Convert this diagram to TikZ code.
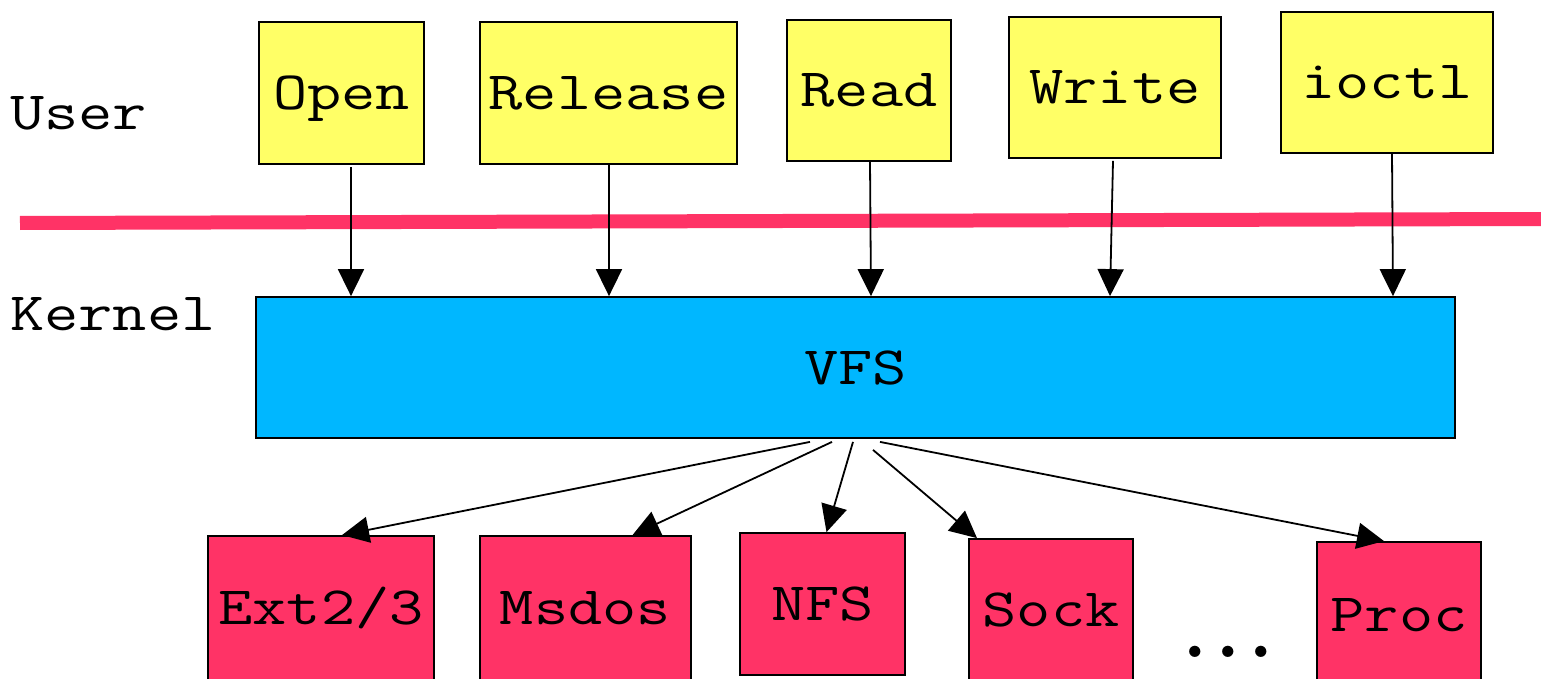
\documentclass[tikz,border=0pt]{standalone}
\usepackage{fontspec}
\setmonofont{Latin Modern Mono}[FakeStretch=1.23]
\newfontfamily\dotfnt{Latin Modern Mono}[LetterSpace=-18.5]
\usetikzlibrary{arrows.meta,calc}
\definecolor{ybox}{HTML}{FFFF66}
\definecolor{bbox}{HTML}{00B7FF}
\definecolor{pbox}{HTML}{FF3366}
\tikzset{
  lbl/.style={font=\ttfamily\fontsize{54pt}{60pt}\selectfont, inner sep=0pt},
  boxbase/.style={draw=black, line width=1.8pt, inner sep=0pt, text height=33pt, text depth=0pt,
     font=\ttfamily\fontsize{54pt}{60pt}\selectfont},
  ubox/.style={boxbase, fill=ybox},
  kbox/.style={boxbase, fill=bbox},
  fbox/.style={boxbase, fill=pbox},
  arr/.style={line width=1.8pt, -{Triangle[width=26pt,length=27pt]}},
}
\begin{document}
\begin{tikzpicture}[x=1pt,y=-1pt]
\useasboundingbox (0,0) rectangle (1541,679);
\fill[white] (0,0) rectangle (1541,679);
% separator
\coordinate (sepL) at (20,223);
\coordinate (sepR) at (1545,219);
\draw[pbox, line width=14pt] (sepL) -- (sepR);
% labels
\node[lbl, anchor=base west] (user) at (10,130) {User};
\node[lbl, anchor=base west] (kernel) at (10,330) {Kernel};
% user boxes
\node[ubox, minimum width=165pt, minimum height=142pt] (open) at (341.5,93) {Open};
\node[ubox, minimum width=257pt, minimum height=142pt] (release) at (608.5,93) {Release};
\node[ubox, minimum width=164pt, minimum height=141pt] (read) at (869,90.5) {Read};
\node[ubox, minimum width=212pt, minimum height=141pt] (write) at (1115,87.5) {Write};
\node[ubox, minimum width=212pt, minimum height=141pt] (ioctl) at (1387,82.5) {ioctl};
% VFS
\node[kbox, minimum width=1199pt, minimum height=141pt] (vfs) at (855.5,367.5) {VFS};
% filesystems
\node[fbox, minimum width=226pt, minimum height=144pt] (ext) at (321,608) {Ext2/3};
\node[fbox, minimum width=211pt, minimum height=144pt] (msdos) at (585.5,608) {Msdos};
\node[fbox, minimum width=165pt, minimum height=142pt] (nfs) at (822.5,604) {NFS};
\node[fbox, minimum width=164pt, minimum height=142pt] (sock) at (1051,610) {Sock};
\node[fbox, minimum width=164pt, minimum height=146pt] (proc) at (1399,615) {Proc};
\node[inner sep=0pt, font=\dotfnt\fontsize{100pt}{104pt}\selectfont, anchor=base west] (dots) at (1169,657) {...};
% top arrows
\draw[arr] ($(open.south)+(9.5,2)$) -- ($(open.south |- vfs.north)+(9.5,0)$);
\draw[arr] ($(release.south)+(0.5,0)$) -- ($(release.south |- vfs.north)+(0.5,0)$);
\draw[arr] ($(read.south)+(1,0)$) -- ($(read.south |- vfs.north)+(2,0)$);
\draw[arr] ($(write.south)+(-2,2)$) -- ($(write.south |- vfs.north)+(-5,0)$);
\draw[arr] ($(ioctl.south)+(5,0)$) -- ($(ioctl.south |- vfs.north)+(6,0)$);
% bottom arrows
\coordinate (s1) at ($(vfs.south)+(-45.5,3)$);
\coordinate (s2) at ($(vfs.south)+(-23.5,3)$);
\coordinate (s3) at ($(vfs.south)+(-2.5,3)$);
\coordinate (s4) at ($(vfs.south)+(17.5,11)$);
\coordinate (s5) at ($(vfs.south)+(24.5,3)$);
\draw[arr] (s1) -- ($(ext.north)+(21,0)$);
\draw[arr] (s2) -- ($(msdos.north)+(47,0)$);
\draw[arr] (s3) -- ($(nfs.north)+(4,0)$);
\draw[arr] (s4) -- ($(sock.north)+(-74,0)$);
\draw[arr] (s5) -- ($(proc.north)+(-15,0)$);
\end{tikzpicture}
\end{document}
